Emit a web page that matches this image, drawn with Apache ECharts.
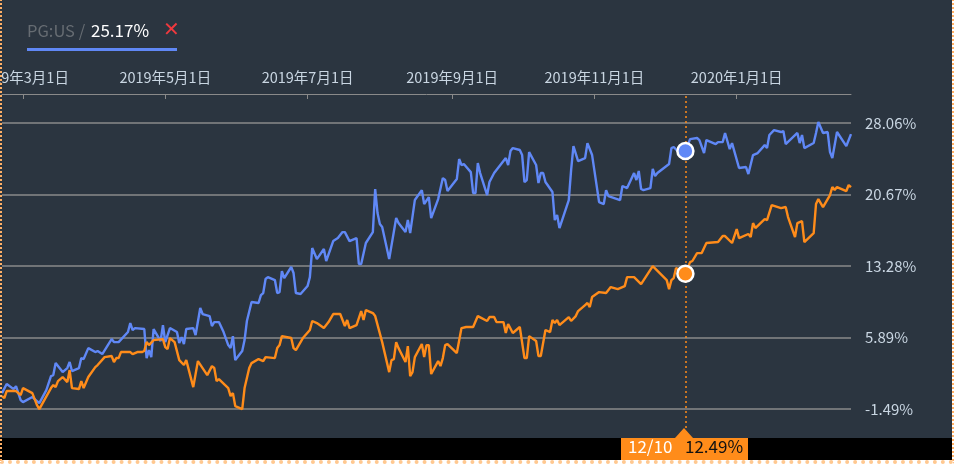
<!DOCTYPE html>
<html>
<head>
<meta charset="utf-8">
<title>PG:US</title>
<script src="https://cdn.jsdelivr.net/npm/echarts@6/dist/echarts.min.js"></script>
<style>
html,body{margin:0;padding:0;background:#fff;overflow:hidden}
#root{position:absolute;left:0;top:0;width:952px;height:460px}
#edge{position:absolute;left:0;top:-4px;width:950px;height:464px;border-left:2px dotted #ffb066;border-right:2px dotted #ffb066;border-bottom:4px dotted #ffc890;pointer-events:none}
</style>
</head>
<body>
<div id="root"></div>
<div id="edge"></div>
<script>
// days counted from startDate
const startDate = '2019/02/20';
const endDate = '2020/02/19';
const blueDays = [0,2,5,6,8,9,13,16,19,21,22,23,26,28,29,30,33,34,35,37,40,41,43,47,48,50,54,55,56,57,61,62,63,64,65,68,69,70,72,75,76,77,78,79,82,83,85,86,89,90,91,93,95,97,98,99,100,103,104,105,107,110,111,112,113,114,117,118,119,120,121,124,125,126,128,131,132,133,135,138,139,142,144,146,147,149,152,153,154,156,159,160,161,162,163,166,169,170,173,174,175,177,180,181,183,184,187,189,190,191,195,196,197,198,201,202,203,204,205,208,209,211,216,217,218,219,222,223,224,225,226,229,230,231,232,233,236,237,238,239,243,244,245,247,250,251,253,256,258,259,260,265,266,268,271,272,273,274,275,278,279,280,281,286,287,288,290,293,295,298,299,301,302,306,307,309,310,312,313,316,319,320,322,324,327,328,329,331,334,335,336,341,342,343,344,348,349,350,352,354,355,356,358,362,364];
const blueValues = [0.15,1.09,0.56,0.87,-0.57,-0.78,-0.26,-0.88,0.46,1.91,2.01,3.25,2.32,2.74,3.36,2.43,2.74,3.77,3.67,4.8,4.39,4.5,4.18,5.73,5.42,5.42,6.46,7.39,6.67,6.87,6.77,3.77,4.6,3.87,6.77,5.53,7.18,5.42,6.87,6.46,5.32,5.94,5.22,6.77,6.87,6.15,8.94,8.32,8.11,7.08,7.49,7.49,6.46,5.11,4.8,6.04,3.56,4.5,5.63,7.6,9.56,9.46,10.28,10.49,11.94,12.14,11.83,10.49,10.59,12.76,12.04,13.18,12.56,10.49,10.39,11.21,12.14,15.14,14.0,15.04,13.8,15.86,16.17,16.79,16.79,15.86,16.17,13.49,13.49,15.66,16.79,21.24,18.76,17.62,17.31,14.0,18.24,17.72,16.79,18.03,16.69,20.1,21.13,19.69,20.41,18.24,20.2,22.37,22.17,21.03,22.27,24.34,23.72,23.82,22.99,20.82,20.82,23.92,22.89,20.62,21.96,22.89,24.44,23.72,25.16,25.47,25.27,24.75,21.96,22.17,25.06,23.72,21.86,22.89,22.89,21.96,20.93,18.03,18.55,17.21,20.1,23.2,25.68,24.13,24.44,25.99,24.75,19.89,19.69,21.13,20.51,20.1,21.55,21.34,22.89,22.17,23.1,21.24,21.13,21.34,23.31,22.58,22.89,23.82,25.47,25.58,25.06,25.17,26.4,26.51,26.3,24.96,26.3,25.89,26.09,26.09,27.03,25.37,25.99,23.41,23.51,22.79,24.75,24.96,25.78,25.47,26.82,27.33,27.13,27.23,25.89,27.03,25.99,26.82,25.47,25.99,27.03,28.16,27.03,27.13,25.06,24.44,27.13,25.68,26.92];
const orangeDays = [0,1,2,6,8,9,13,15,16,21,22,23,24,26,28,29,30,33,34,35,37,40,41,44,47,48,49,50,51,55,56,58,60,61,62,63,65,69,70,71,72,74,76,78,79,82,84,88,90,91,92,93,97,98,99,100,103,104,106,107,110,112,113,117,118,119,120,124,125,126,129,132,133,135,138,140,142,145,147,148,149,152,154,155,156,159,160,163,166,167,168,169,170,173,174,175,176,177,180,181,182,183,184,187,188,189,190,191,195,197,199,202,204,208,209,211,212,215,216,217,219,222,224,225,226,229,230,231,233,235,236,237,238,239,243,244,246,247,249,250,251,252,253,256,259,261,264,267,268,271,274,279,285,286,287,288,289,293,295,296,298,300,302,307,309,310,313,315,316,320,321,322,323,327,328,330,334,336,337,340,341,343,344,348,349,350,352,355,356,357,358,362,363,364];
const orangeValues = [-0.16,-0.36,0.36,0.36,-0.05,0.67,0.15,-1.09,-1.5,0.67,0.98,0.78,1.39,1.81,1.29,2.53,0.67,0.57,1.39,0.67,1.81,2.84,3.05,3.87,3.98,3.36,3.77,3.77,4.39,4.39,4.18,4.39,4.39,4.5,5.42,5.11,5.63,5.73,4.91,4.7,5.84,5.42,3.56,3.05,3.56,0.77,3.46,2.01,2.94,2.74,1.39,1.6,0.67,-0.16,0.15,-1.19,-1.5,0.67,2.74,3.25,3.67,3.46,3.87,3.77,4.8,5.11,6.04,5.84,4.8,4.6,5.84,6.67,7.6,7.39,6.87,7.49,8.32,8.32,7.08,7.7,6.87,7.18,8.63,7.7,8.73,8.42,8.11,5.42,2.32,3.56,3.67,5.42,4.8,3.36,5.01,1.91,2.32,3.87,5.22,3.87,5.11,5.11,2.12,3.46,2.94,3.77,5.11,5.22,4.29,6.87,6.98,6.98,8.11,7.6,8.01,8.01,7.49,7.49,6.36,7.29,6.36,6.98,3.77,3.77,6.04,5.53,3.98,3.98,6.67,6.46,7.7,7.39,7.7,7.18,8.01,7.6,8.11,8.63,9.04,9.25,9.46,9.04,10.08,10.59,10.49,11.11,10.9,11.21,12.14,12.14,11.42,13.28,11.83,10.9,11.83,12.04,13.07,12.49,13.69,13.8,14.62,14.62,15.66,15.76,16.38,16.38,15.66,17.1,16.17,16.59,16.28,17.72,17.21,18.14,18.03,19.58,19.27,19.38,18.34,16.28,17.72,17.93,15.76,16.69,19.69,20.2,19.38,20.62,21.44,21.13,21.44,21.03,21.65,21.44];
const xTickDates = ['2019/03/01','2019/05/01','2019/07/01','2019/09/01','2019/11/01','2020/01/01'];
const yTicks = [-1.49,5.89,13.28,20.67,28.06];
const yMin = -4.49;
const yMax = 31.06;
const stockName = 'PG:US';
const stockValue = 25.17;
const pickDate = '2019/12/10';
const pickLabel = '12/10';
const pickBlue = 25.17;
const pickOrange = 12.49;

const BLUE = '#6088f6';
const ORANGE = '#ff8c1a';
const LABEL = '#c9d6e2';
const FONT = '"Noto Sans CJK JP","Noto Sans",sans-serif';

const DAY = 86400000;
const toTime = s => new Date(s).getTime();
const toPairs = (days, values) => days.map((d, i) => [toTime(startDate) + d * DAY, values[i]]);
const pct = v => v.toFixed(2) + '%';

const chart = echarts.init(document.getElementById('root'));
const marker = (value, color) => ({
    coord: [toTime(pickDate), value],
    symbol: 'circle',
    symbolSize: 16,
    itemStyle: {color: color, borderColor: '#fff', borderWidth: 2.5},
    label: {show: false}
});

chart.setOption({
    animation: false,
    backgroundColor: '#2b3540',
    grid: {left: 2, right: 101, top: 94, bottom: 22, outerBoundsMode: 'none'},
    xAxis: {
        type: 'value',
        position: 'top',
        min: toTime(startDate),
        max: toTime(endDate),
        axisLine: {onZero: false, lineStyle: {color: '#8a8a8a', width: 1}},
        axisTick: {show: true, inside: true, length: 5, lineStyle: {color: '#8a8a8a'}, customValues: xTickDates.map(toTime)},
        splitLine: {show: false},
        axisLabel: {
            customValues: xTickDates.map(toTime),
            hideOverlap: false,
            margin: 9,
            color: LABEL,
            fontSize: 14.5,
            fontFamily: FONT,
            formatter: v => {
                const d = new Date(v);
                return d.getFullYear() + '年' + (d.getMonth() + 1) + '月' + d.getDate() + '日';
            }
        }
    },
    yAxis: {
        type: 'value',
        position: 'right',
        min: yMin,
        max: yMax,
        axisLine: {show: false},
        axisTick: {show: false, customValues: yTicks},
        splitLine: {show: true, lineStyle: {color: '#8a8a8a', width: 1.5}},
        axisLabel: {
            customValues: yTicks,
            margin: 14,
            align: 'left',
            color: LABEL,
            fontSize: 15,
            fontFamily: FONT,
            formatter: pct
        }
    },
    series: [
        {
            name: stockName,
            type: 'line',
            showSymbol: false,
            clip: false,
            data: toPairs(blueDays, blueValues),
            lineStyle: {color: BLUE, width: 2.4},
            itemStyle: {color: BLUE},
            z: 3,
            markPoint: {silent: true, data: [marker(pickBlue, BLUE)], z: 6}
        },
        {
            name: 'benchmark',
            type: 'line',
            showSymbol: false,
            clip: false,
            data: toPairs(orangeDays, orangeValues),
            lineStyle: {color: ORANGE, width: 2.4},
            itemStyle: {color: ORANGE},
            z: 3,
            markLine: {
                silent: true,
                symbol: 'none',
                label: {show: false},
                emphasis: {disabled: true},
                lineStyle: {color: ORANGE, type: [2, 3], width: 1.5},
                data: [{xAxis: toTime(pickDate)}]
            },
            markPoint: {silent: true, data: [marker(pickOrange, ORANGE)], z: 6}
        }
    ],
    graphic: [
        {type: 'text', left: 27, top: 22, style: {text: stockName + ' /', fill: '#666c72', fontSize: 16.5, fontFamily: FONT}},
        {type: 'text', left: 91, top: 22, style: {text: pct(stockValue), fill: '#fff', fontSize: 17, fontFamily: FONT}},
        {type: 'text', left: 163, top: 21, style: {text: '✕', fill: '#f0393e', fontSize: 20, fontWeight: 'bold', fontFamily: '"DejaVu Sans"'}},
        {type: 'rect', left: 27, top: 48, shape: {width: 150, height: 3}, style: {fill: BLUE}},
        {type: 'rect', left: 0, top: 438, z: 10, shape: {width: 952, height: 22}, style: {fill: '#000'}},
        {type: 'rect', left: 621, top: 438, z: 11, shape: {width: 127, height: 22}, style: {fill: ORANGE}},
        {type: 'polygon', z: 11, shape: {points: [[675, 438], [684, 428], [693, 438]]}, style: {fill: ORANGE}},
        {type: 'text', left: 628, top: 438, z: 12, style: {text: pickLabel, fill: '#fff', fontSize: 17, fontFamily: FONT}},
        {type: 'text', left: 685, top: 438, z: 12, style: {text: pct(pickOrange), fill: '#111', fontSize: 17, fontFamily: FONT}}
    ]
});
</script>
</body>
</html>
